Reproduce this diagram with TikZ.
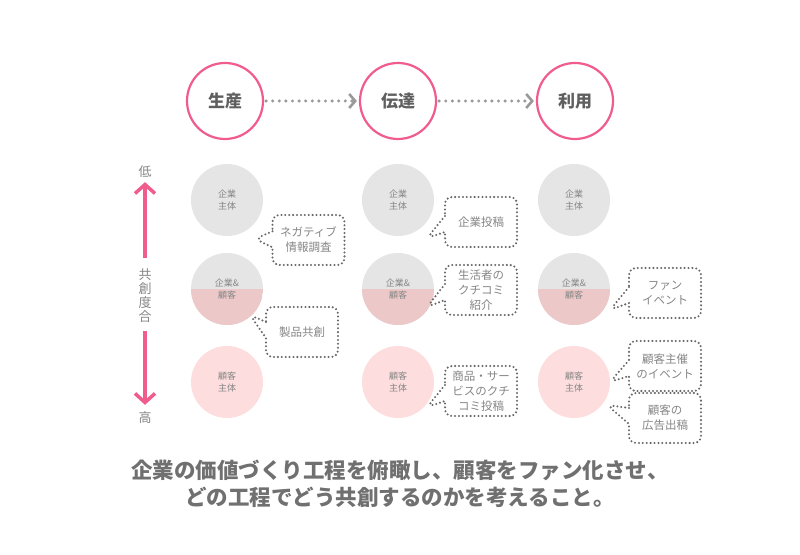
\documentclass[tikz,border=0pt]{standalone}
\usepackage{fontspec}
\setmainfont{Noto Sans CJK JP}
\usetikzlibrary{arrows.meta,shapes.callouts,positioning}
\definecolor{StagePink}{RGB}{240,92,140}
\definecolor{TextGray}{RGB}{112,112,112}
\definecolor{LightGray}{RGB}{229,229,229}
\definecolor{MidPink}{RGB}{236,200,200}
\definecolor{LightPink}{RGB}{253,221,221}
\definecolor{DotGray}{RGB}{105,105,105}

\begin{document}
\begin{tikzpicture}[x=1pt,y=1pt,
  stage/.style={circle, draw=StagePink, line width=2.2pt, minimum size=76pt, inner sep=0pt,
    font=\fontsize{17}{18}\selectfont\bfseries, text=TextGray!85!black},
  actor/.style={circle, minimum size=72pt, inner sep=0pt, align=center,
    font=\fontsize{9}{12.5}\selectfont, text=TextGray!85},
  firm/.style={actor, fill=LightGray},
  both/.style={actor, fill=LightGray, path picture={
    \fill[MidPink] (path picture bounding box.west) rectangle (path picture bounding box.south east);}},
  fan/.style={actor, fill=LightPink},
  bubble/.style={rectangle callout, draw=DotGray, line width=2.3pt, dash pattern=on 0pt off 3.9pt,
    line cap=round, rounded corners=7pt, minimum width=72pt, minimum height=50pt, inner sep=2pt,
    align=center, callout pointer width=16pt, font=\fontsize{11.5}{15}\selectfont, text=TextGray!85},
  flow/.style={draw=gray!80, line width=3.4pt, dash pattern=on 0pt off 6.6pt, line cap=round,
    -{Straight Barb[length=6pt,width=14pt,line width=2.6pt]}, shorten >=2pt, shorten <=2pt},
  axisarrow/.style={draw=StagePink, line width=3.5pt, -{Straight Barb[length=9pt,width=20pt]}},
  axislabel/.style={inner sep=3pt, align=center, font=\fontsize{13}{14}\selectfont, text=TextGray!85}
]
  \useasboundingbox (0,0) rectangle (800,554);

  % value chain
  \node[stage] (prod) at (225,453) {生産};
  \node[stage] (dist) at (398,453) {伝達};
  \node[stage] (use) at (575,453) {利用};
  \draw[flow] (prod) -- (dist);
  \draw[flow] (dist) -- (use);

  % who leads
  \foreach \x/\c in {227/a,398/b,574/c} {
    \node[firm] (\c1) at (\x,354) {企業\\主体};
    \node[both] (\c2) at (\x,265) {企業\&\\顧客};
    \node[fan] (\c3) at (\x,172) {顧客\\主体};
  }

  % examples
  \node[bubble, callout absolute pointer={(255,315)}] (neg) at (308.5,314) {ネガティブ\\情報調査};
  \node[bubble, callout absolute pointer={(250,239)}] (cocr) at (302,222) {製品共創};
  \node[bubble, callout absolute pointer={(427,316)}] (post) at (481,332) {企業投稿};
  \node[bubble, callout absolute pointer={(427,247)}] (wom) at (481,264) {生活者の\\クチコミ\\紹介};
  \node[bubble, callout absolute pointer={(427,147)}] (rev) at (481,163) {商品・サー\\ビスのクチ\\コミ投稿};
  \node[bubble, callout absolute pointer={(610,244)}] (event) at (665,261) {ファン\\イベント};
  \node[bubble, callout absolute pointer={(610,172)}] (meet) at (665,188) {顧客主催\\のイベント};
  \node[bubble, callout absolute pointer={(607,149)}] (ads) at (665,136) {顧客の\\広告出稿};

  % co-creation scale
  \node[axislabel] (low) at (145,382) {低};
  \node[axislabel] (deg) at (145,258) {共\\創\\度\\合};
  \node[axislabel] (high) at (145,136) {高};
  \draw[axisarrow, shorten <=8pt, shorten >=1pt] (deg.north) -- (low.south);
  \draw[axisarrow, shorten <=5pt, shorten >=4pt] (deg.south) -- (high.north);

  \node[font=\fontsize{21.5}{27}\selectfont\bfseries, text=TextGray, align=center] (msg) at (400,70.5)
    {企業の価値づくり工程を俯瞰し、顧客をファン化させ、\\どの工程でどう共創するのかを考えること。};
\end{tikzpicture}
\end{document}
